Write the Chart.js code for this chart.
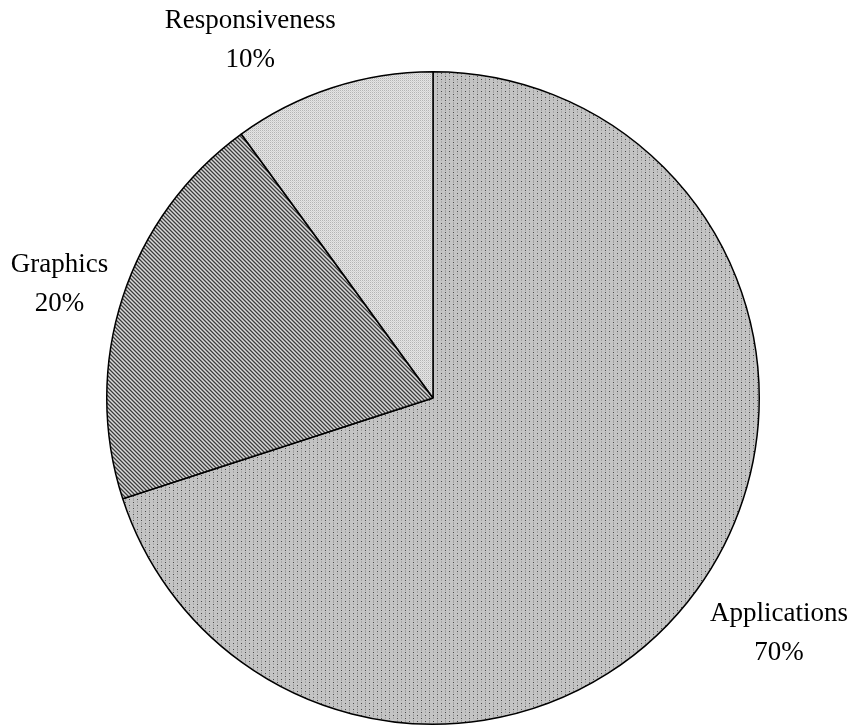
<!DOCTYPE html>
<html>
<head>
<meta charset="utf-8">
<script src="https://cdn.jsdelivr.net/npm/chart.js@4.4.1/dist/chart.umd.min.js"></script>
<style>
  html, body { margin: 0; padding: 0; background: #ffffff; }
  #wrap { width: 855px; height: 726px; position: relative; }
</style>
</head>
<body>
<div id="wrap"><canvas id="c" width="855" height="726"></canvas></div>
<script>
// ---- data ----
const categories = ["Applications", "Graphics", "Responsiveness"];
const shares = [70, 20, 10];
const percentLabels = ["70%", "20%", "10%"];

// ---- fill patterns ----
function makePattern(w, h, painter) {
  const c = document.createElement('canvas');
  c.width = w; c.height = h;
  const g = c.getContext('2d');
  painter(g, w, h);
  return g.createPattern(c, 'repeat');
}
const ctxMain = document.getElementById('c').getContext('2d');

const dotPattern = makePattern(8, 6, (g, w, h) => {
  g.fillStyle = '#c4c4c4'; g.fillRect(0, 0, w, h);
  g.fillStyle = '#4a4a4a'; g.fillRect(1, 1, 1, 1);
  g.fillStyle = '#a2a2a2'; g.fillRect(5, 0, 1, 3);
  g.fillStyle = '#4a4a4a'; g.fillRect(5, 4, 1, 1);
  g.fillStyle = '#a8a8a8'; g.fillRect(1, 3, 1, 2);
});
const stripePattern = makePattern(4, 4, (g, w, h) => {
  for (let y = 0; y < h; y++) for (let x = 0; x < w; x++) {
    const k = ((x - y) % 4 + 4) % 4;
    g.fillStyle = k === 0 ? '#3c3c3c' : (k === 1 ? '#8a8a8a' : (k === 2 ? '#d8d8d8' : '#a0a0a0'));
    g.fillRect(x, y, 1, 1);
  }
});
const checkPattern = makePattern(2, 2, (g) => {
  g.fillStyle = '#e4e4e4'; g.fillRect(0, 0, 2, 2);
  g.fillStyle = '#b4b4b4'; g.fillRect(0, 0, 1, 1);
  g.fillStyle = '#d2d2d2'; g.fillRect(1, 1, 1, 1);
});

// ---- outside labels plugin ----
const outsideLabels = {
  id: 'outsideLabels',
  afterDatasetsDraw(chart, args, opts) {
    const ctx = chart.ctx;
    const meta = chart.getDatasetMeta(0);
    ctx.save();
    ctx.font = opts.font;
    ctx.fillStyle = opts.color;
    ctx.textAlign = 'center';
    ctx.textBaseline = 'middle';
    meta.data.forEach((arc, i) => {
      const p = arc.getProps(['x', 'y', 'startAngle', 'endAngle', 'outerRadius'], true);
      const adj = opts.adjust[i] || { dAngle: 0, dist: 60 };
      const mid = (p.startAngle + p.endAngle) / 2 + adj.dAngle * Math.PI / 180;
      const r = p.outerRadius + adj.dist;
      const cx = p.x + Math.cos(mid) * r;
      const cy = p.y + Math.sin(mid) * r;
      const lh = opts.lineHeight;
      ctx.fillText(categories[i], cx, cy - lh / 2);
      ctx.fillText(percentLabels[i], cx, cy + lh / 2);
    });
    ctx.restore();
  }
};

new Chart(ctxMain, {
  type: 'pie',
  data: {
    labels: categories,
    datasets: [{
      data: shares,
      backgroundColor: [dotPattern, stripePattern, checkPattern],
      borderColor: '#000000',
      borderWidth: 1.5
    }]
  },
  options: {
    responsive: false,
    animation: false,
    rotation: 0,
    layout: { padding: { top: 71, bottom: 1, left: 11, right: 0 } },
    plugins: {
      legend: { display: false },
      tooltip: { enabled: false },
      outsideLabels: {
        font: '27px "Liberation Serif", "Times New Roman", serif',
        color: '#000000',
        lineHeight: 39,
        adjust: [
          { dAngle: -1.8, dist: 92 },
          { dAngle: -1.1, dist: 64 },
          { dAngle: -9.1, dist: 75 }
        ]
      }
    }
  },
  plugins: [outsideLabels]
});
</script>
</body>
</html>
